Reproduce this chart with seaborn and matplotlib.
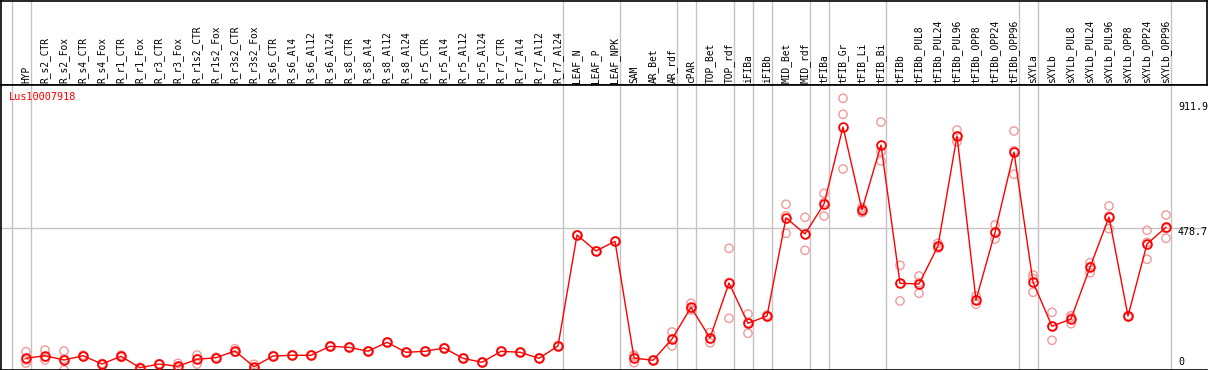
import numpy as np
import pandas as pd
import matplotlib
matplotlib.use("Agg")
import matplotlib.pyplot as plt
import seaborn as sns

# Muestras (orden del eje x)
muestras = ["HYP",
            "R_s2_CTR", "R_s2_Fox", "R_s4_CTR", "R_s4_Fox", "R_r1_CTR", "R_r1_Fox",
            "R_r3_CTR", "R_r3_Fox", "R_r1s2_CTR", "R_r1s2_Fox", "R_r3s2_CTR", "R_r3s2_Fox",
            "R_s6_CTR", "R_s6_Al4", "R_s6_Al12", "R_s6_Al24", "R_s8_CTR", "R_s8_Al4",
            "R_s8_Al12", "R_s8_Al24", "R_r5_CTR", "R_r5_Al4", "R_r5_Al12", "R_r5_Al24",
            "R_r7_CTR", "R_r7_Al4", "R_r7_Al12", "R_r7_Al24",
            "LEAF_N", "LEAF_P", "LEAF_NPK",
            "SAM", "AR_Bet", "AR_rdf",
            "cPAR",
            "TOP_Bet", "TOP_rdf",
            "iFIBa",
            "iFIBb",
            "MID_Bet", "MID_rdf",
            "tFIBa",
            "tFIB_Gr", "tFIB_Li", "tFIB_Bi",
            "tFIBb", "tFIBb_PUL8", "tFIBb_PUL24", "tFIBb_PUL96", "tFIBb_OPP8",
            "tFIBb_OPP24", "tFIBb_OPP96",
            "sXYLa",
            "sXYLb", "sXYLb_PUL8", "sXYLb_PUL24", "sXYLb_PUL96", "sXYLb_OPP8",
            "sXYLb_OPP24", "sXYLb_OPP96"]

# tamano de cada grupo (lineas grises de separacion)
grupos = [1, 28, 3, 3, 1, 2, 1, 1, 2, 1, 3, 7, 1, 7]

# Expresion media
media = [41.5, 50.2, 35.8, 50.2, 22.4, 48.2, 10.0, 22.4, 14.7, 38.2, 43.5, 66.0, 13.4,
         49.2, 51.6, 51.6, 81.7, 78.3, 65.0, 95.1, 61.6, 65.0, 76.0, 41.5, 28.1,
         65.0, 61.6, 41.5, 82.7,
         454.3, 400.8, 433.2,
         42.5, 34.8, 106.1,
         212.3,
         109.5, 293.6,
         158.7,
         183.1,
         511.9, 457.7,
         558.1,
         815.9, 538.4, 755.6,
         292.6, 290.3, 417.5, 785.8, 236.7, 463.4, 732.2,
         297.0,
         148.7, 173.1, 346.2, 514.6, 183.1, 424.2, 480.1]

# Replicas
rep1 = [63.6, 69.3, 66.0, 48.0, 20.0, 45.0, 8.0, 21.0, 24.5, 52.6, 42.0, 73.6, 21.4,
        48.0, 50.5, 50.5, 80.5, 77.0, 64.0, 94.0, 60.5, 64.0, 75.0, 40.5, 27.0,
        64.0, 60.5, 40.5, 81.5,
        454.3, 400.8, 433.2,
        48.2, 34.0, 129.6,
        225.7,
        127.2, 409.8,
        189.8,
        180.0,
        557.1, 513.6,
        593.9,
        912.0, 545.7, 832.6,
        352.9, 317.0, 426.5, 805.9, 250.1, 487.8, 802.5,
        320.4,
        195.5, 184.1, 361.6, 551.4, 181.0, 470.0, 521.3]
rep2 = [35.8, 35.8, 2.3, 52.0, 24.0, 52.0, 12.0, 23.0, 10.0, 22.4, 45.0, 62.0, 9.0,
        50.5, 52.5, 52.5, 83.0, 79.5, 66.0, 96.0, 62.5, 66.0, 77.0, 42.5, 29.0,
        66.0, 62.5, 42.5, 84.0,
        454.3, 400.8, 433.2,
        26.8, 35.5, 82.7,
        203.2,
        93.7, 175.4,
        125.2,
        186.0,
        460.0, 403.1,
        517.9,
        858.4, 529.0, 733.2,
        233.4, 259.1, 409.8, 766.7, 222.3, 440.9, 657.6,
        262.5,
        101.8, 157.4, 328.1, 475.4, 185.0, 373.0, 443.3]
rep3 = [25.8, 45.5, 39.1, 50.6, 23.0, 47.0, 10.0, 23.0, 9.6, 39.6, 43.5, 62.4, 9.8,
        49.0, 51.8, 51.8, 81.6, 78.4, 65.0, 95.3, 61.7, 65.0, 76.0, 41.5, 28.3,
        65.0, 61.8, 41.5, 82.6,
        454.3, 400.8, 433.2,
        52.5, 35.0, 106.0,
        208.0,
        107.6, 295.6,
        161.0,
        183.0,
        518.6, 456.4,
        562.5,
        675.3, 540.5, 702.0,
        291.5, 294.8, 416.2, 784.8, 237.7, 461.5, 736.5,
        308.1,
        148.8, 177.8, 348.9, 517.0, 183.3, 429.6, 475.7]

valor_max = 911.9
valor_ref = 478.7

W, H = 1209, 370
gris = "#c4c4c4"
rojo = "#ff0000"
rosa = "#f09a9a"
fuente = "DejaVu Sans Mono"

df = pd.DataFrame({"x": np.arange(len(muestras)), "media": media})
reps = pd.DataFrame({"x": np.tile(np.arange(len(muestras)), 3),
                     "valor": rep1 + rep2 + rep3})

fig = plt.figure(figsize=(W / 100, H / 100), dpi=100)
xlim = ((1 - 26) / 19, (1207 - 26) / 19)

# Cabecera con las etiquetas
cab = fig.add_axes([1 / W, 1 - 85 / H, 1206 / W, 84.5 / H])
cab.set_xlim(xlim)
cab.set_ylim(0, 1)
cab.set_xticks([])
cab.set_yticks([])
for s in cab.spines.values():
    s.set_color("black")
    s.set_linewidth(1.2)
for i, nombre in enumerate(muestras):
    cab.text(i, 0.02, nombre, rotation=90, ha="center", va="bottom",
             fontsize=6.9, family=fuente, color="black")

# Area del grafico
ax = fig.add_axes([1 / W, 0.5 / H, 1206 / W, (369.5 - 85) / H])
ax.set_xlim(xlim)
ax.set_ylim((370.7 - 369.5) / 0.2987, (370.7 - 85) / 0.2987)
ax.set_xticks([])
ax.set_yticks([])
ax.spines["right"].set_visible(False)
for s in ["left", "bottom", "top"]:
    ax.spines[s].set_color("black")
    ax.spines[s].set_linewidth(1.2)

# separadores de grupos
limites = np.cumsum([0] + grupos) - 1 + 0.25
for b in limites:
    ax.axvline(b, color=gris, lw=1, zorder=0)
    cab.axvline(b, color=gris, lw=1, zorder=0)
ax.axhline(valor_ref, color=gris, lw=1, zorder=0)

sns.scatterplot(data=reps, x="x", y="valor", ax=ax, marker="o", s=36,
                facecolor="none", edgecolor=rosa, linewidth=1.0, zorder=2,
                legend=False)
sns.lineplot(data=df, x="x", y="media", ax=ax, color=rojo, lw=1.0,
             marker="o", markersize=6.3, markerfacecolor="none",
             markeredgecolor=rojo, markeredgewidth=1.3, zorder=3)
ax.set_xlabel("")
ax.set_ylabel("")
ax.set_xlim(xlim)

# textos
fig.text(9.3 / W, 1 - 97 / H, "Lus10007918", color=rojo, fontsize=7.4,
         family=fuente, ha="left", va="center")
fig.text(1178 / W, 1 - 106.7 / H, f"{valor_max}", fontsize=7.2, family=fuente,
         ha="left", va="center")
fig.text(1178 / W, 1 - 232 / H, f"{valor_ref}", fontsize=7.2, family=fuente,
         ha="left", va="center")
fig.text(1178 / W, 1 - 361.7 / H, "0", fontsize=7.2, family=fuente,
         ha="left", va="center")

fig.savefig("out.png", dpi=100)
